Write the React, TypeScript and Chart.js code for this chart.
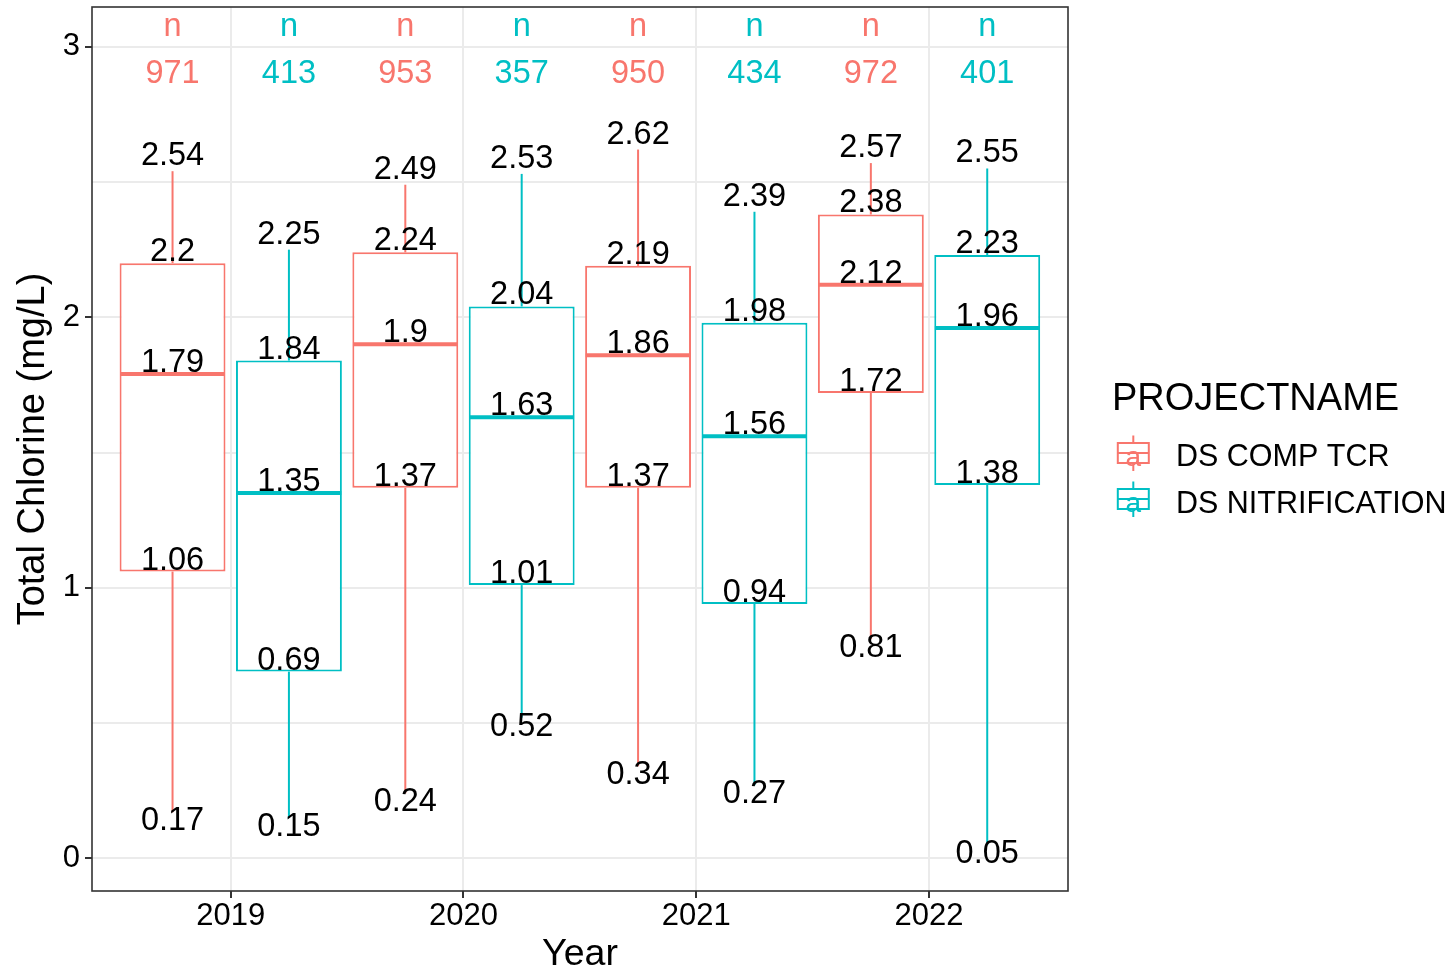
import React, { useEffect, useRef } from "react";
import { Chart, registerables } from "chart.js";

Chart.register(...registerables);

// ---- data -------------------------------------------------------------
const years = [2019, 2020, 2021, 2022];
const groupNames = ["DS COMP TCR", "DS NITRIFICATION"];
const groupColors = ["#F8766D", "#00BFC4"];

const compMin = [0.17, 0.24, 0.34, 0.81];
const compQ1 = [1.06, 1.37, 1.37, 1.72];
const compMedian = [1.79, 1.9, 1.86, 2.12];
const compQ3 = [2.2, 2.24, 2.19, 2.38];
const compMax = [2.54, 2.49, 2.62, 2.57];
const compN = [971, 953, 950, 972];

const nitrMin = [0.15, 0.52, 0.27, 0.05];
const nitrQ1 = [0.69, 1.01, 0.94, 1.38];
const nitrMedian = [1.35, 1.63, 1.56, 1.96];
const nitrQ3 = [1.84, 2.04, 1.98, 2.23];
const nitrMax = [2.25, 2.53, 2.39, 2.55];
const nitrN = [413, 357, 434, 401];

const yTickValues = [0, 0.5, 1, 1.5, 2, 2.5, 3];
const xTickValues = years;

// ---- layout / style ---------------------------------------------------
const FAMILY = "'Liberation Sans', Arial, Helvetica, sans-serif";
const X_MIN = 2018.404;
const X_MAX = 2022.597;
const Y_MIN = -0.121;
const Y_MAX = 3.147;
const DODGE = [-0.25, 0.25];
const BOX_WIDTH = 0.45; // in years
const N_LABEL_Y = 3.04;
const COUNT_LABEL_Y = 2.865;

const stats = [
  { min: compMin, q1: compQ1, median: compMedian, q3: compQ3, max: compMax, n: compN },
  { min: nitrMin, q1: nitrQ1, median: nitrMedian, q3: nitrQ3, max: nitrMax, n: nitrN },
];

function line(ctx: CanvasRenderingContext2D, x1: number, y1: number, x2: number, y2: number) {
  ctx.beginPath();
  ctx.moveTo(x1, y1);
  ctx.lineTo(x2, y2);
  ctx.stroke();
}

// whiskers, medians and text labels for each box
const boxExtras = {
  id: "boxExtras",
  afterDatasetsDraw(chart: any) {
    const { ctx, scales } = chart;
    const x = scales.x;
    const y = scales.y;
    const half = x.getPixelForValue(2019 + BOX_WIDTH / 2) - x.getPixelForValue(2019);
    ctx.save();
    ctx.lineCap = "butt";
    stats.forEach((s, g) => {
      const color = groupColors[g];
      years.forEach((yr, i) => {
        const cx = x.getPixelForValue(yr + DODGE[g]);
        ctx.strokeStyle = color;
        ctx.lineWidth = 2;
        line(ctx, cx, y.getPixelForValue(s.q3[i]), cx, y.getPixelForValue(s.max[i]));
        line(ctx, cx, y.getPixelForValue(s.q1[i]), cx, y.getPixelForValue(s.min[i]));
        ctx.lineWidth = 4;
        const my = y.getPixelForValue(s.median[i]);
        line(ctx, cx - half, my, cx + half, my);
      });
    });
    ctx.textAlign = "center";
    ctx.textBaseline = "alphabetic";
    stats.forEach((s, g) => {
      years.forEach((yr, i) => {
        const cx = x.getPixelForValue(yr + DODGE[g]);
        ctx.font = `32.5px ${FAMILY}`;
        ctx.fillStyle = "#000000";
        ctx.fillText(String(s.max[i]), cx, y.getPixelForValue(s.max[i]) - 6);
        ctx.fillText(String(s.q3[i]), cx, y.getPixelForValue(s.q3[i]) - 2);
        ctx.fillText(String(s.median[i]), cx, y.getPixelForValue(s.median[i]) - 2);
        ctx.fillText(String(s.q1[i]), cx, y.getPixelForValue(s.q1[i]) - 2);
        ctx.fillText(String(s.min[i]), cx, y.getPixelForValue(s.min[i]) + 18);
        ctx.fillStyle = groupColors[g];
        ctx.fillText("n", cx, y.getPixelForValue(N_LABEL_Y));
        ctx.fillText(String(s.n[i]), cx, y.getPixelForValue(COUNT_LABEL_Y));
      });
    });
    ctx.restore();
  },
  afterDraw(chart: any) {
    const { ctx, chartArea } = chart;
    ctx.save();
    // panel border
    ctx.strokeStyle = "#333333";
    ctx.lineWidth = 1.6;
    ctx.strokeRect(chartArea.left, chartArea.top, chartArea.right - chartArea.left, chartArea.bottom - chartArea.top);

    // legend
    const lx = chartArea.right + 44;
    ctx.fillStyle = "#000000";
    ctx.textAlign = "left";
    ctx.textBaseline = "alphabetic";
    ctx.font = `38px ${FAMILY}`;
    ctx.fillText("PROJECTNAME", lx, 410);
    groupNames.forEach((name, g) => {
      const color = groupColors[g];
      const cx = lx + 21.3;
      const cy = 453 + g * 46;
      ctx.strokeStyle = color;
      ctx.lineWidth = 2;
      line(ctx, cx, cy - 17.5, cx, cy - 10);
      line(ctx, cx, cy + 10, cx, cy + 18);
      ctx.strokeRect(cx - 15.5, cy - 10, 31, 20);
      line(ctx, cx - 15.5, cy, cx + 15.5, cy);
      ctx.fillStyle = color;
      ctx.textAlign = "center";
      ctx.font = `28px ${FAMILY}`;
      ctx.fillText("a", cx, cy + 12.5);
      ctx.fillStyle = "#000000";
      ctx.textAlign = "left";
      ctx.font = `30.5px ${FAMILY}`;
      ctx.fillText(name, lx + 64, 466 + g * 47);
    });
    ctx.restore();
  },
};

export default function App() {
  const canvasRef = useRef<HTMLCanvasElement | null>(null);

  useEffect(() => {
    const canvas = canvasRef.current;
    if (!canvas) return;

    const datasets = stats.map((s, g) => ({
      type: "bar" as const,
      label: groupNames[g],
      data: years.map((yr, i) => ({ x: yr + DODGE[g], y: [s.q1[i], s.q3[i]] })),
      backgroundColor: "#FFFFFF",
      borderColor: groupColors[g],
      borderWidth: 2,
      borderSkipped: false,
      barPercentage: 0.91,
      categoryPercentage: 1,
      grouped: false,
    }));

    const chart = new Chart(canvas, {
      type: "bar",
      data: { datasets: datasets as any },
      options: {
        responsive: false,
        animation: false,
        devicePixelRatio: 1,
        layout: { padding: { left: 0, top: 7, right: 385, bottom: 0 } },
        plugins: {
          legend: { display: false },
          tooltip: { enabled: false },
        },
        scales: {
          x: {
            type: "linear",
            min: X_MIN,
            max: X_MAX,
            offset: false,
            afterBuildTicks: (s: any) => {
              s.ticks = xTickValues.map((v) => ({ value: v }));
            },
            afterFit: (s: any) => {
              s.height = 80;
              s.paddingLeft = 0;
              s.paddingRight = 0;
            },
            ticks: {
              callback: (v: any) => String(v),
              font: { family: FAMILY, size: 31 },
              color: "#000000",
              padding: 0,
              autoSkip: false,
              maxRotation: 0,
            },
            grid: {
              offset: false,
              color: "#EBEBEB",
              lineWidth: 2,
              tickLength: 7,
              tickColor: "#333333",
              tickWidth: 2,
            },
            border: { display: false },
            title: {
              display: true,
              text: "Year",
              color: "#000000",
              font: { family: FAMILY, size: 37.5, lineHeight: 0.85 },
              padding: 0,
            },
          },
          y: {
            type: "linear",
            min: Y_MIN,
            max: Y_MAX,
            beginAtZero: false,
            afterBuildTicks: (s: any) => {
              s.ticks = yTickValues.map((v) => ({ value: v }));
            },
            afterFit: (s: any) => {
              s.width = 92;
              s.paddingTop = 0;
              s.paddingBottom = 0;
            },
            ticks: {
              callback: (v: any) => (Number.isInteger(v) ? String(v) : ""),
              font: { family: FAMILY, size: 31 },
              color: "#000000",
              padding: 5,
              autoSkip: false,
            },
            grid: {
              color: "#EBEBEB",
              lineWidth: 2,
              tickLength: 7,
              tickWidth: 2,
              tickColor: (c: any) =>
                c.tick && Number.isInteger(c.tick.value) ? "#333333" : "rgba(0,0,0,0)",
            },
            border: { display: false },
            title: {
              display: true,
              text: "Total Chlorine (mg/L)",
              color: "#000000",
              font: { family: FAMILY, size: 38, lineHeight: 1 },
              padding: { top: 15, bottom: 0 },
            },
          },
        },
      },
      plugins: [boxExtras],
    });

    return () => chart.destroy();
  }, []);

  return (
    <div style={{ position: "absolute", left: 0, top: 0, width: 1453, height: 971, background: "#FFFFFF" }}>
      <canvas ref={canvasRef} width={1453} height={971} style={{ width: 1453, height: 971, display: "block" }} />
    </div>
  );
}
